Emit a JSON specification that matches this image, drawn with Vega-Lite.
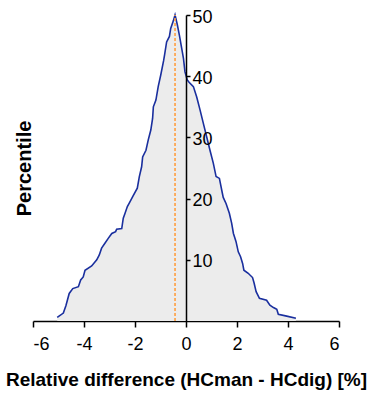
{
  "$schema": "https://vega.github.io/schema/vega-lite/v6.json",
  "width": 306,
  "height": 306,
  "autosize": "none",
  "padding": {"left": 33, "top": 15, "right": 44, "bottom": 81},
  "config": {
    "view": {"stroke": null},
    "font": "Liberation Sans",
    "axis": {
      "grid": false,
      "domainColor": "black",
      "domainWidth": 1.5,
      "tickColor": "black",
      "tickWidth": 1.5,
      "labelColor": "black",
      "labelFont": "Liberation Sans",
      "labelFontSize": 18,
      "titleFont": "Liberation Sans",
      "titleFontSize": 20,
      "titleFontWeight": "bold",
      "titleColor": "black"
    }
  },
  "datasets": {
    "curve": [
      {"x": -5.05, "y": 0.6},
      {"x": -4.81, "y": 1.3},
      {"x": -4.71, "y": 2.5},
      {"x": -4.58, "y": 4.5},
      {"x": -4.44, "y": 5.3},
      {"x": -4.22, "y": 5.6},
      {"x": -4.13, "y": 6.7},
      {"x": -4.03, "y": 7.2},
      {"x": -3.96, "y": 8.3},
      {"x": -3.7, "y": 9.0},
      {"x": -3.5, "y": 10.0},
      {"x": -3.4, "y": 10.8},
      {"x": -3.31, "y": 11.9},
      {"x": -3.18, "y": 12.7},
      {"x": -3.05, "y": 13.5},
      {"x": -2.91, "y": 14.3},
      {"x": -2.76, "y": 14.6},
      {"x": -2.72, "y": 15.0},
      {"x": -2.52, "y": 15.1},
      {"x": -2.46, "y": 16.8},
      {"x": -2.39, "y": 17.6},
      {"x": -2.3, "y": 18.7},
      {"x": -2.22, "y": 19.3},
      {"x": -2.08, "y": 20.4},
      {"x": -1.91, "y": 21.7},
      {"x": -1.83, "y": 23.6},
      {"x": -1.74, "y": 25.2},
      {"x": -1.7, "y": 26.8},
      {"x": -1.57, "y": 27.9},
      {"x": -1.48, "y": 29.6},
      {"x": -1.38, "y": 31.2},
      {"x": -1.31, "y": 33.1},
      {"x": -1.28, "y": 35.0},
      {"x": -1.18, "y": 36.1},
      {"x": -1.09, "y": 38.3},
      {"x": -0.99, "y": 40.2},
      {"x": -0.88, "y": 42.5},
      {"x": -0.84, "y": 43.5},
      {"x": -0.76, "y": 45.6},
      {"x": -0.65, "y": 46.5},
      {"x": -0.6, "y": 47.8},
      {"x": -0.5, "y": 49.0},
      {"x": -0.43, "y": 50.0},
      {"x": -0.34, "y": 48.4},
      {"x": -0.26, "y": 46.7},
      {"x": -0.17, "y": 44.6},
      {"x": -0.1, "y": 42.9},
      {"x": -0.04, "y": 40.7},
      {"x": 0.05, "y": 39.4},
      {"x": 0.12, "y": 39.0},
      {"x": 0.29, "y": 38.3},
      {"x": 0.42, "y": 36.6},
      {"x": 0.55, "y": 34.5},
      {"x": 0.68, "y": 32.3},
      {"x": 0.81, "y": 30.1},
      {"x": 0.94, "y": 27.9},
      {"x": 1.07, "y": 25.8},
      {"x": 1.18, "y": 23.6},
      {"x": 1.31, "y": 23.3},
      {"x": 1.42, "y": 21.0},
      {"x": 1.46, "y": 20.2},
      {"x": 1.57, "y": 19.2},
      {"x": 1.7, "y": 17.6},
      {"x": 1.79, "y": 16.0},
      {"x": 1.86, "y": 14.3},
      {"x": 1.96, "y": 13.0},
      {"x": 2.05, "y": 11.3},
      {"x": 2.14, "y": 10.5},
      {"x": 2.22, "y": 9.4},
      {"x": 2.27, "y": 8.3},
      {"x": 2.44, "y": 7.8},
      {"x": 2.61, "y": 7.1},
      {"x": 2.67, "y": 6.2},
      {"x": 2.75, "y": 4.8},
      {"x": 2.88, "y": 3.7},
      {"x": 3.16, "y": 3.4},
      {"x": 3.29, "y": 2.6},
      {"x": 3.43, "y": 2.2},
      {"x": 3.56, "y": 1.9},
      {"x": 3.62, "y": 1.1},
      {"x": 3.95, "y": 0.8},
      {"x": 4.31, "y": 0.44}
    ],
    "median": [{"x": -0.43, "y0": 0, "y1": 50}]
  },
  "layer": [
    {
      "data": {"name": "curve"},
      "mark": {"type": "area", "color": "#ececec", "opacity": 1},
      "encoding": {
        "x": {
          "field": "x",
          "type": "quantitative",
          "scale": {"domain": [-6, 6], "nice": false},
          "axis": {
            "values": [-6, -4, -2, 0, 2, 4, 6],
            "tickSize": 6,
            "labelPadding": 8,
            "labelExpr": "'' + datum.value",
            "title": "Relative difference (HCman - HCdig) [%]",
            "titleFontSize": 19,
            "titlePadding": 17
          }
        },
        "y": {
          "field": "y",
          "type": "quantitative",
          "scale": {"domain": [0, 50], "nice": false},
          "axis": {
            "orient": "left",
            "domain": false,
            "ticks": false,
            "labels": false,
            "title": "Percentile",
            "titlePadding": -1
          }
        }
      }
    },
    {
      "data": {"name": "curve"},
      "mark": {"type": "line", "color": "#1a2f9e", "strokeWidth": 1.6},
      "encoding": {
        "x": {"field": "x", "type": "quantitative"},
        "y": {
          "field": "y",
          "type": "quantitative",
          "axis": {
            "orient": "right",
            "offset": -153,
            "values": [10, 20, 30, 40, 50],
            "tickSize": 4,
            "labelPadding": 2,
            "labelOffset": 2,
            "title": null,
            "zindex": 1
          }
        }
      }
    },
    {
      "data": {"name": "median"},
      "mark": {"type": "rule", "color": "#ff9f40", "strokeDash": [3, 2], "strokeWidth": 1.6},
      "encoding": {
        "x": {"field": "x", "type": "quantitative"},
        "y": {"field": "y0", "type": "quantitative", "axis": null},
        "y2": {"field": "y1"}
      }
    }
  ],
  "resolve": {"axis": {"y": "independent"}}
}
